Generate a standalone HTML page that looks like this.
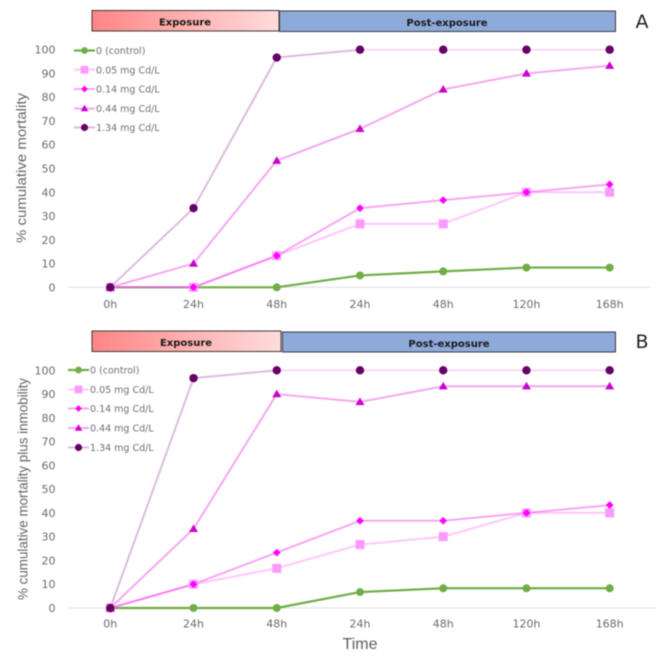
<!DOCTYPE html>
<html lang="en">
<head>
<meta charset="utf-8">
<title>Cumulative mortality charts</title>
<style>
html,body{margin:0;padding:0;background:#fff;width:661px;height:661px;overflow:hidden}
svg{display:block;filter:blur(.5px)}
.tick{font:11px "DejaVu Sans",sans-serif;fill:#6b6b6b}
.legend{font:9.5px "DejaVu Sans",sans-serif;fill:#6f6f6f}
.band{font:bold 10px "DejaVu Sans",sans-serif;fill:#1a1a1a;text-anchor:middle}
.ytitle{font:14px "Liberation Sans",sans-serif;fill:#666;text-anchor:middle}
.panel{font:19px "DejaVu Sans",sans-serif;fill:#222;text-anchor:middle}
.xtitle{font:16px "Liberation Sans",sans-serif;fill:#5f5f5f;text-anchor:middle}
</style>
</head>
<body>
<svg id="chart" width="661" height="661" viewBox="0 0 661 661" xmlns="http://www.w3.org/2000/svg">
<defs>
<linearGradient id="expGrad" x1="0" x2="1" y1="0" y2="0"><stop offset="0" stop-color="#ff8585"/><stop offset="1" stop-color="#ffdcdc"/></linearGradient>
</defs>
<g>
<rect x="92" y="10.5" width="187" height="20.5" fill="url(#expGrad)" stroke="#3a3a3a" stroke-width="1"/>
<text class="band" x="185" y="25.5">Exposure</text>
<rect x="279.5" y="11" width="336" height="20.5" fill="#8eaadb" stroke="#3a3a3a" stroke-width="1"/>
<text class="band" x="447" y="26">Post-exposure</text>
<text class="panel" x="642" y="28">A</text>
</g>
<g>
<rect x="92" y="331" width="189" height="20.5" fill="url(#expGrad)" stroke="#3a3a3a" stroke-width="1"/>
<text class="band" x="186" y="346">Exposure</text>
<rect x="282.5" y="332" width="333" height="20" fill="#8eaadb" stroke="#3a3a3a" stroke-width="1"/>
<text class="band" x="449" y="347">Post-exposure</text>
<text class="panel" x="642" y="348">B</text>
</g>
<text class="ytitle" transform="translate(26,168) rotate(-90)" textLength="150" lengthAdjust="spacingAndGlyphs">% cumulative mortality</text>
<text class="ytitle" transform="translate(27.5,489) rotate(-90)" textLength="222" lengthAdjust="spacingAndGlyphs">% cumulative mortality plus inmobility</text>
<text class="xtitle" x="360" y="649">Time</text>
</svg>
<script>
const categories = ['0h', '24h', '48h', '24h', '48h', '120h', '168h'];
const yTicks = [0, 10, 20, 30, 40, 50, 60, 70, 80, 90, 100];
const seriesNames = ['0 (control)', '0.05 mg Cd/L', '0.14 mg Cd/L', '0.44 mg Cd/L', '1.34 mg Cd/L'];

const mortalityControl = [0, 0, 0, 5, 6.7, 8.3, 8.3];
const mortality005 = [0, 0, 13.3, 26.7, 26.7, 40, 40];
const mortality014 = [0, 0, 13.3, 33.3, 36.7, 40, 43.3];
const mortality044 = [0, 10, 53.3, 66.7, 83.3, 90, 93.3];
const mortality134 = [0, 33.3, 96.7, 100, 100, 100, 100];

const inmobilityControl = [0, 0, 0, 6.7, 8.3, 8.3, 8.3];
const inmobility005 = [0, 10, 16.7, 26.7, 30, 40, 40];
const inmobility014 = [0, 10, 23.3, 36.7, 36.7, 40, 43.3];
const inmobility044 = [0, 33.3, 90, 86.7, 93.3, 93.3, 93.3];
const inmobility134 = [0, 96.7, 100, 100, 100, 100, 100];

const NS = 'http://www.w3.org/2000/svg';
const svg = document.getElementById('chart');
const lineColors = ['#70ad47', '#ffb0ff', '#f9a6f2', '#f5a8f0', '#dcbcdc'];
const lineOpacity = [1, 0.7, 1, 1, 1];
const lineBlend = ['normal', 'normal', 'multiply', 'normal', 'normal'];
const markColors = ['#70ad47', '#ff99ff', '#ff00ff', '#cc00cc', '#660066'];
const lineWidths = [2.2, 2, 2, 2, 2];

function make(tag, attrs, parent) {
  const el = document.createElementNS(NS, tag);
  for (const k in attrs) el.setAttribute(k, attrs[k]);
  parent.appendChild(el);
  return el;
}

function drawMarker(kind, x, y, parent, k) {
  const c = markColors[kind];
  let el;
  if (kind === 0) el = make('circle', {cx: x, cy: y, r: 4 * k, fill: c}, parent);
  if (kind === 1) el = make('rect', {x: x - 4.5 * k, y: y - 4.5 * k, width: 9 * k, height: 9 * k, fill: c}, parent);
  if (kind === 2) el = make('polygon', {points: [x, y - 3.9 * k, x + 3.9 * k, y, x, y + 3.9 * k, x - 3.9 * k, y].join(','), fill: c}, parent);
  if (kind === 3) el = make('polygon', {points: [x, y - 4.4 * k, x + 4.5 * k, y + 3.2 * k, x - 4.5 * k, y + 3.2 * k].join(','), fill: c}, parent);
  if (kind === 4) el = make('circle', {cx: x, cy: y, r: 4.2 * k, fill: c}, parent);
  return el;
}

function drawPanel(id, seriesList, y0, y100, baseY, labelY, legendLineX, legendYs, axisEnd) {
  const xScale = i => 110.3 + i * 83.23;
  const yScale = v => y0 + (y100 - y0) * v / 100;
  const root = make('g', {}, svg);
  
  

  const axis = make('line', {x1: 68, x2: axisEnd, y1: baseY, y2: baseY, stroke: '#dedede', 'stroke-width': 1}, root);
  
  

  yTicks.forEach(t => {
    const label = make('text', {x: 55.5, y: yScale(t) + 4, 'text-anchor': 'end', class: 'tick'}, root);
    
    
    label.textContent = t;
  });

  categories.forEach((c, i) => {
    const label = make('text', {x: xScale(i), y: labelY, 'text-anchor': 'middle', class: 'tick'}, root);
    
    
    label.textContent = c;
  });

  seriesList.forEach((vals, s) => {
    const g = make('g', {style: 'mix-blend-mode:' + lineBlend[s], opacity: lineOpacity[s]}, root);
    
    
    for (let i = 0; i < vals.length - 1; i++) {
      const flat = s === 4 && vals[i] === 100 && vals[i + 1] === 100;
      make('line', {
        x1: xScale(i), y1: yScale(vals[i]), x2: xScale(i + 1), y2: yScale(vals[i + 1]),
        stroke: flat ? '#f7c8f3' : lineColors[s],
        'stroke-width': flat ? 1.4 : lineWidths[s], 'stroke-linecap': 'round'
      }, g);
    }
  });

  seriesList.forEach((vals, s) => {
    vals.forEach((v, i) => {
      const m = drawMarker(s, xScale(i), yScale(v), root, 1);
      
      
    });
  });

  seriesNames.forEach((name, s) => {
    const g = make('g', {}, root);
    
    
    const y = legendYs[s];
    make('line', {x1: legendLineX, x2: legendLineX + 21, y1: y, y2: y, stroke: lineColors[s], opacity: lineOpacity[s], 'stroke-width': lineWidths[s]}, g);
    drawMarker(s, legendLineX + 10.5, y, g, 0.85);
    const t = make('text', {x: legendLineX + 22, y: y + 3.5, class: 'legend'}, g);
    t.textContent = name;
  });
}

drawPanel('a', [mortalityControl, mortality005, mortality014, mortality044, mortality134],
  287.3, 49.7, 287.3, 308, 74, [50.5, 69.8, 89, 108.5, 127.5], 651);
drawPanel('b', [inmobilityControl, inmobility005, inmobility014, inmobility044, inmobility134],
  608, 370.3, 608, 627.5, 68, [370, 389.5, 408.5, 428, 447.5], 655);
</script>
</body>
</html>
